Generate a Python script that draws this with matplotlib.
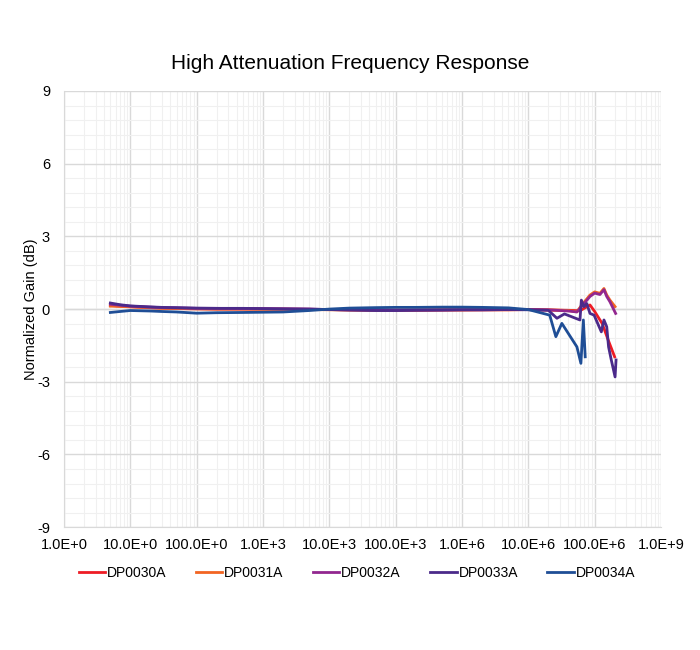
import matplotlib
matplotlib.use("Agg")
import matplotlib.pyplot as plt
import numpy as np
from matplotlib.ticker import FixedLocator, LogLocator, MultipleLocator, NullFormatter

plt.rcParams['font.family'] = ['Liberation Sans', 'DejaVu Sans']
plt.rcParams['axes.unicode_minus'] = False

series_names = ["DP0030A", "DP0031A", "DP0032A", "DP0033A", "DP0034A"]
colors = ["#EE1C25", "#F26522", "#92278F", "#4B2A8A", "#1F4E96"]

# shared low/mid frequency points (Hz)
f_low = [5, 7, 10, 20, 30, 50, 100, 200, 500, 1e3, 2e3, 5e3, 1e4, 2e4, 5e4,
         1e5, 2e5, 5e5, 1e6, 2e6, 5e6, 1e7]

g30_low = [0.15, 0.12, 0.10, 0.06, 0.04, 0.02, 0.01, 0.00, 0.00, 0.00, 0.00, -0.01, -0.02,
           -0.03, -0.04, -0.04, -0.04, -0.03, -0.03, -0.03, -0.03, -0.02]
g31_low = [0.12, 0.11, 0.09, 0.05, 0.03, 0.02, 0.01, 0.00, 0.00, -0.01, -0.01, -0.02, -0.03,
           -0.04, -0.05, -0.05, -0.05, -0.04, -0.04, -0.03, -0.03, -0.02]
g32_low = [0.20, 0.16, 0.12, 0.08, 0.06, 0.05, 0.03, 0.03, 0.02, 0.02, 0.01, 0.00, -0.02,
           -0.03, -0.04, -0.05, -0.04, -0.04, -0.03, -0.03, -0.02, -0.02]
g33_low = [0.25, 0.18, 0.13, 0.09, 0.07, 0.06, 0.04, 0.03, 0.03, 0.02, 0.01, 0.00, -0.02,
           -0.04, -0.06, -0.06, -0.05, -0.04, -0.03, -0.03, -0.02, -0.03]
g34_low = [-0.14, -0.10, -0.06, -0.08, -0.10, -0.12, -0.17, -0.15, -0.14, -0.13, -0.12, -0.06, 0.00,
           0.04, 0.06, 0.07, 0.07, 0.08, 0.08, 0.07, 0.05, -0.02]

# high frequency tails (Hz)
f30_hi = [2e7, 4e7, 6e7, 8.5e7, 1.0e8, 1.3e8, 1.6e8, 2.0e8]
g30_hi = [-0.04, -0.05, -0.07, 0.17, -0.10, -0.60, -1.28, -1.97]

f31_hi = [2e7, 4e7, 5.4e7, 6.4e7, 8.5e7, 1.0e8, 1.2e8, 1.38e8, 1.52e8, 1.7e8, 2.03e8]
g31_hi = [-0.03, -0.06, -0.11, 0.17, 0.58, 0.71, 0.65, 0.85, 0.58, 0.37, 0.10]

f32_hi = [2e7, 4e7, 5.4e7, 6.4e7, 8.5e7, 1.0e8, 1.2e8, 1.38e8, 1.52e8, 1.7e8, 2.07e8]
g32_hi = [-0.03, -0.08, -0.12, 0.12, 0.52, 0.66, 0.60, 0.80, 0.52, 0.30, -0.18]

f33_hi = [2e7, 2.7e7, 3.5e7, 6.0e7, 6.3e7, 6.9e7, 7.6e7, 8.5e7, 9.8e7, 1.26e8, 1.38e8,
          1.52e8, 1.62e8, 1.78e8, 2.03e8, 2.1e8]
g33_hi = [-0.05, -0.38, -0.20, -0.45, 0.37, 0.10, 0.23, -0.18, -0.25, -0.94, -0.45,
          -0.73, -1.56, -2.10, -2.80, -2.10]

f34_hi = [2.1e7, 2.6e7, 3.2e7, 5.4e7, 6.2e7, 6.75e7, 7.2e7]
g34_hi = [-0.25, -1.14, -0.59, -1.56, -2.24, -0.45, -1.97]

freqs = [f_low + f30_hi, f_low + f31_hi, f_low + f32_hi, f_low + f33_hi, f_low + f34_hi]
gains = [g30_low + g30_hi, g31_low + g31_hi, g32_low + g32_hi, g33_low + g33_hi, g34_low + g34_hi]

xtick_vals = [1e0, 1e1, 1e2, 1e3, 1e4, 1e5, 1e6, 1e7, 1e8, 1e9]
xtick_labels = ["1.0E+0", "10.0E+0", "100.0E+0", "1.0E+3", "10.0E+3", "100.0E+3",
                "1.0E+6", "10.0E+6", "100.0E+6", "1.0E+9"]
ytick_vals = [-9, -6, -3, 0, 3, 6, 9]

fig = plt.figure(figsize=(7, 6.5), dpi=100)
ax = fig.add_axes([0.0914, 0.189, 0.8529, 0.671])

for name, c, f, g in zip(series_names, colors, freqs, gains):
    ax.plot(f, g, color=c, lw=2.0, label=name, solid_joinstyle='round')

ax.set_xscale('log')
ax.set_xlim(1, 1e9)
ax.set_ylim(-9, 9)
ax.xaxis.set_major_locator(FixedLocator(xtick_vals))
ax.set_xticklabels(xtick_labels)
ax.xaxis.set_minor_locator(LogLocator(base=10, subs=np.arange(2, 10), numticks=100))
ax.xaxis.set_minor_formatter(NullFormatter())
ax.set_yticks(ytick_vals)
ax.yaxis.set_minor_locator(MultipleLocator(0.6))

ax.grid(which='major', color='#D9D9D9', lw=1.0)
ax.grid(which='minor', color='#F0F0F0', lw=0.8)
ax.set_axisbelow(True)
for s in ['top', 'right']:
    ax.spines[s].set_visible(False)
ax.spines['left'].set_color('#D9D9D9')
ax.spines['bottom'].set_color('#D9D9D9')
ax.tick_params(which='both', length=0, labelsize=10.5, colors='black')
ax.tick_params(axis='x', pad=8)
ax.tick_params(axis='y', pad=10)
ax.axhline(0, color='#D9D9D9', lw=1.0, zorder=0.5)

ax.set_ylabel("Normalized Gain (dB)", fontsize=10.5, labelpad=-1)
fig.text(0.5, 0.903, "High Attenuation Frequency Response", ha='center', va='center', fontsize=15)

fig.legend(loc='center', bbox_to_anchor=(0.51, 0.118), ncol=5, frameon=False,
           fontsize=10, handlelength=1.9, handletextpad=0.15, columnspacing=2.1)

fig.savefig("out.png", dpi=100, facecolor='white')
